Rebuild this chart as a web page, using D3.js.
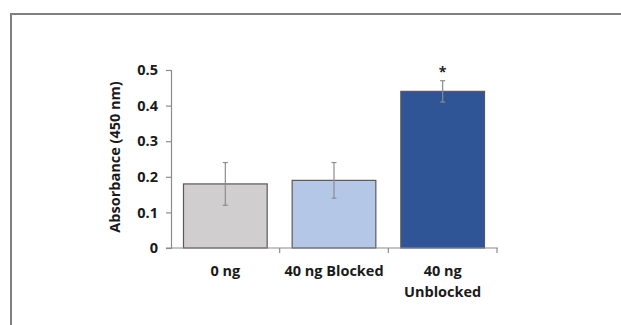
<!DOCTYPE html>
<html>
<head>
<meta charset="utf-8">
<script src="https://cdn.jsdelivr.net/npm/d3@7"></script>
<style>
  body { margin: 0; background: #fff; }
</style>
</head>
<body>
<script>
const categories = [["0 ng"], ["40 ng Blocked"], ["40 ng", "Unblocked"]];
const values = [0.18, 0.19, 0.44];
const errLow = [0.12, 0.14, 0.41];
const errHigh = [0.24, 0.24, 0.47];
const colors = ["#d0cece", "#b4c7e7", "#2f5597"];
const marks = ["", "", "*"];
const yTicks = [0, 0.1, 0.2, 0.3, 0.4, 0.5];

const width = 621, height = 325;
const margin = {top: 70, right: 124, bottom: 77, left: 171};
const fs = "14.5px";

const svg = d3.select("body").append("svg")
    .attr("width", width)
    .attr("height", height)
    .style("font-family", "'Open Sans', sans-serif")
    .style("font-weight", "bold");

// frame
svg.append("path")
    .attr("d", `M11,${height} V14 H${width}`)
    .attr("fill", "none")
    .attr("stroke", "#808080")
    .attr("stroke-width", 2);

const x = d3.scaleBand()
    .domain(d3.range(values.length))
    .range([margin.left, width - margin.right])
    .paddingInner(0.23)
    .paddingOuter(0.115);

const y = d3.scaleLinear()
    .domain([0, 0.5])
    .range([height - margin.bottom, margin.top]);

// bars
svg.append("g").selectAll("rect")
  .data(values)
  .join("rect")
    .attr("x", (d, i) => x(i))
    .attr("y", d => y(d))
    .attr("width", x.bandwidth())
    .attr("height", d => y(0) - y(d))
    .attr("fill", (d, i) => colors[i])
    .attr("stroke", "#595959")
    .attr("stroke-width", 1.2);

// error bars
const eb = svg.append("g")
    .attr("stroke", "#8c8c8c")
    .attr("stroke-width", 1.2);
values.forEach((d, i) => {
  const cx = x(i) + x.bandwidth() / 2;
  eb.append("line").attr("x1", cx).attr("x2", cx).attr("y1", y(errLow[i])).attr("y2", y(errHigh[i]));
  eb.append("line").attr("x1", cx - 2.5).attr("x2", cx + 2.5).attr("y1", y(errLow[i])).attr("y2", y(errLow[i]));
  eb.append("line").attr("x1", cx - 2.5).attr("x2", cx + 2.5).attr("y1", y(errHigh[i])).attr("y2", y(errHigh[i]));
});

// significance marks
svg.append("g").selectAll("text")
  .data(marks)
  .join("text")
    .attr("x", (d, i) => x(i) + x.bandwidth() / 2)
    .attr("y", (d, i) => y(errHigh[i]) - 4)
    .attr("text-anchor", "middle")
    .style("font-size", "14px")
    .attr("fill", "#222")
    .text(d => d);

// y axis
const yAxis = svg.append("g")
    .attr("transform", `translate(${margin.left},0)`)
    .call(d3.axisLeft(y).tickValues(yTicks).tickFormat(d => d === 0 ? "0" : d3.format(".1f")(d)).tickSize(5).tickPadding(8));
yAxis.select(".domain").attr("stroke", "#8c8c8c").attr("stroke-width", 1.2);
yAxis.selectAll(".tick line").attr("stroke", "#8c8c8c").attr("stroke-width", 1.2);
yAxis.selectAll(".tick text").attr("fill", "#1a1a1a").style("font-size", fs).style("font-family", "'Open Sans', sans-serif");

// x axis
const xAxisY = y(0);
const bounds = d3.range(values.length + 1).map(i => margin.left + i * (width - margin.right - margin.left) / values.length);
const xa = svg.append("g").attr("stroke", "#8c8c8c").attr("stroke-width", 1.2);
xa.append("line").attr("x1", margin.left - 5).attr("x2", width - margin.right + 1).attr("y1", xAxisY).attr("y2", xAxisY);
bounds.slice(1).forEach(b => {
  xa.append("line").attr("x1", b).attr("x2", b).attr("y1", xAxisY).attr("y2", xAxisY + 5);
});

const xl = svg.append("g").selectAll("text")
  .data(categories)
  .join("text")
    .attr("x", (d, i) => x(i) + x.bandwidth() / 2)
    .attr("y", xAxisY + 28)
    .attr("text-anchor", "middle")
    .attr("fill", "#1a1a1a")
    .style("font-size", fs);
xl.selectAll("tspan")
  .data(d => d)
  .join("tspan")
    .attr("x", function() { return this.parentNode.getAttribute("x"); })
    .attr("dy", (d, j) => j === 0 ? 0 : 21)
    .text(d => d);

// y label
svg.append("text")
    .attr("transform", `translate(120,${(y(0) + y(0.5)) / 2 - 2}) rotate(-90)`)
    .attr("text-anchor", "middle")
    .attr("fill", "#1a1a1a")
    .style("font-size", fs)
    .text("Absorbance  (450 nm)");
</script>
</body>
</html>
